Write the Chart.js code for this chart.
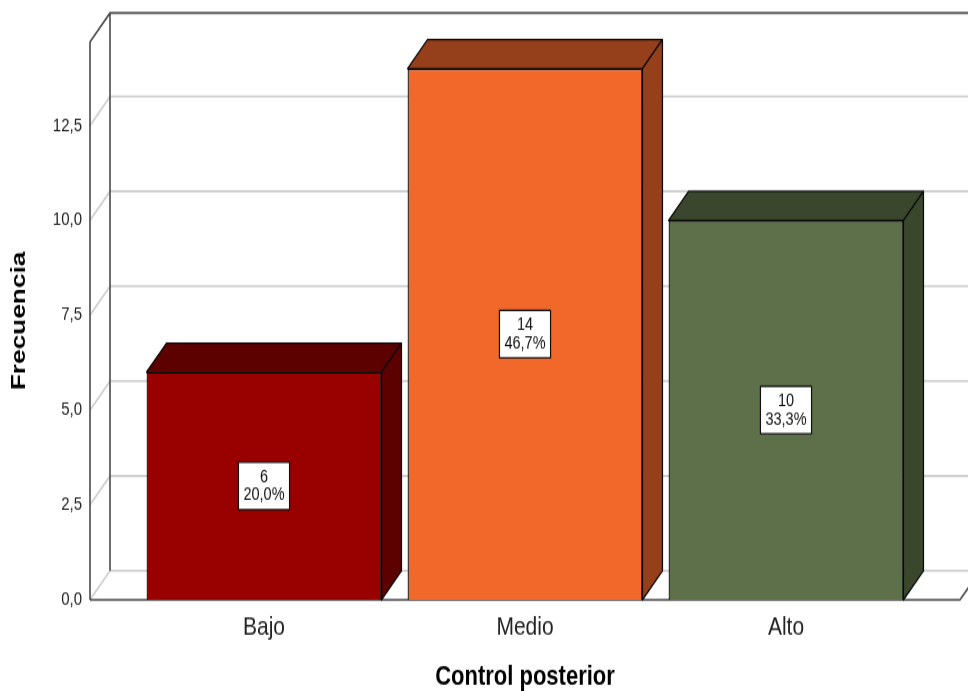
<!DOCTYPE html>
<html lang="es">
<head>
    <meta charset="UTF-8">
    <title>Control posterior</title>
    <script src="https://cdn.jsdelivr.net/npm/chart.js"></script>
    <style>
        body { margin: 0; background: #fff; }
        #grafico { display: block; width: 968px; height: 691px; }
    </style>
</head>
<body>
    <!-- el lienzo se dibuja a 968x553 y se estira en vertical -->
    <canvas id="grafico" width="968" height="553" style="width:968px;height:691px"></canvas>

    <script>
        // datos
        const categorias = ['Bajo', 'Medio', 'Alto'];
        const frecuencias = [6, 14, 10];
        const marcasEje = [0, 2.5, 5, 7.5, 10, 12.5];
        const maxEje = 14.7;

        // colores de las caras
        const colorFrente = ['#990000', '#f2682b', '#5e7049'];
        const colorLado = ['#5c0000', '#963f1b', '#3a472d'];

        // desplazamiento de la profundidad 3D
        const PROF_X = 20;
        const PROF_Y = 23.2;
        const FUENTE = "'Liberation Sans', Arial, sans-serif";

        const total = frecuencias.reduce((a, b) => a + b, 0);
        const coma = (v, d) => v.toFixed(d).replace('.', ',');

        // paredes, suelo y lineas de la cuadricula en el fondo
        const marco3d = {
            id: 'marco3d',
            beforeDatasetsDraw(chart) {
                const { ctx, chartArea: a, scales: { y } } = chart;
                const fin = chart.width + 40;
                ctx.save();
                ctx.lineWidth = 1.6;
                ctx.strokeStyle = '#cccccc';
                marcasEje.forEach(v => {
                    const py = y.getPixelForValue(v);
                    ctx.beginPath();
                    ctx.moveTo(a.left, py);
                    ctx.lineTo(a.left + PROF_X, py - PROF_Y);
                    ctx.lineTo(fin, py - PROF_Y);
                    ctx.stroke();
                });

                ctx.strokeStyle = '#4a4a4a';
                ctx.beginPath();
                ctx.moveTo(a.left, a.bottom);
                ctx.lineTo(a.left, a.top);
                ctx.lineTo(a.left + PROF_X, a.top - PROF_Y);
                ctx.lineTo(fin, a.top - PROF_Y);
                ctx.moveTo(a.left + PROF_X, a.top - PROF_Y);
                ctx.lineTo(a.left + PROF_X, a.bottom - PROF_Y);
                ctx.moveTo(a.left, a.bottom);
                ctx.lineTo(a.right, a.bottom);
                ctx.lineTo(a.right + PROF_X, a.bottom - PROF_Y);
                ctx.stroke();
                ctx.restore();
            },
            afterDatasetsDraw(chart) {
                const { ctx } = chart;
                const meta = chart.getDatasetMeta(0);
                ctx.save();
                meta.data.forEach((barra, i) => {
                    const { x, y, base, width } = barra.getProps(['x', 'y', 'base', 'width'], true);
                    const izq = x - width / 2;
                    const der = x + width / 2;
                    ctx.fillStyle = colorLado[i];
                    ctx.strokeStyle = '#0a0a0a';
                    ctx.lineWidth = 1.3;
                    ctx.lineJoin = 'round';

                    // cara superior
                    ctx.beginPath();
                    ctx.moveTo(izq, y);
                    ctx.lineTo(izq + PROF_X, y - PROF_Y);
                    ctx.lineTo(der + PROF_X, y - PROF_Y);
                    ctx.lineTo(der, y);
                    ctx.closePath();
                    ctx.fill();
                    ctx.stroke();

                    // cara lateral
                    ctx.beginPath();
                    ctx.moveTo(der, y);
                    ctx.lineTo(der + PROF_X, y - PROF_Y);
                    ctx.lineTo(der + PROF_X, base - PROF_Y);
                    ctx.lineTo(der, base);
                    ctx.closePath();
                    ctx.fill();
                    ctx.stroke();

                    // etiqueta con frecuencia y porcentaje
                    const lineas = [String(frecuencias[i]), coma(frecuencias[i] / total * 100, 1) + '%'];
                    ctx.font = '14.5px ' + FUENTE;
                    const ancho = Math.max(...lineas.map(t => ctx.measureText(t).width)) + 10;
                    const alto = 38;
                    const cy = (y + base) / 2;
                    ctx.fillStyle = '#fff';
                    ctx.strokeStyle = '#111';
                    ctx.lineWidth = 1.2;
                    ctx.fillRect(x - ancho / 2, cy - alto / 2, ancho, alto);
                    ctx.strokeRect(x - ancho / 2, cy - alto / 2, ancho, alto);
                    ctx.fillStyle = '#111';
                    ctx.textAlign = 'center';
                    ctx.textBaseline = 'middle';
                    ctx.fillText(lineas[0], x, cy - 7);
                    ctx.fillText(lineas[1], x, cy + 7.5);
                });
                ctx.restore();
            }
        };

        new Chart(document.getElementById('grafico'), {
            type: 'bar',
            data: {
                datasets: [{
                    data: frecuencias.map((v, i) => ({ x: i, y: v })),
                    backgroundColor: colorFrente,
                    borderColor: '#0a0a0a',
                    borderWidth: 1.3,
                    categoryPercentage: 0.9,
                    barPercentage: 1
                }]
            },
            options: {
                responsive: false,
                animation: false,
                layout: { padding: { top: 33.6, right: 8, bottom: 0, left: 0 } },
                plugins: { legend: { display: false }, tooltip: { enabled: false } },
                scales: {
                    x: {
                        type: 'linear',
                        offset: false,
                        min: -2 / 3,
                        max: 8 / 3,
                        grid: { display: false, drawTicks: false, offset: false },
                        border: { display: false },
                        afterBuildTicks: s => { s.ticks = categorias.map((c, i) => ({ value: i })); },
                        afterFit: s => { s.height = 73; },
                        ticks: {
                            padding: 9.5,
                            color: '#222',
                            font: { family: FUENTE, size: 21 },
                            callback: v => categorias[v]
                        },
                        title: {
                            display: true,
                            text: 'Control posterior',
                            color: '#000',
                            padding: { top: 0, bottom: 0 },
                            font: { family: FUENTE, size: 22, weight: 'bold', lineHeight: 1 }
                        }
                    },
                    y: {
                        min: 0,
                        max: maxEje,
                        grid: { display: false, drawTicks: false },
                        border: { display: false },
                        afterBuildTicks: s => { s.ticks = marcasEje.map(v => ({ value: v })); },
                        afterFit: s => { s.width = 90; },
                        ticks: {
                            padding: 8,
                            color: '#222',
                            font: { family: FUENTE, size: 15 },
                            callback: v => coma(v, 1)
                        },
                        title: {
                            display: true,
                            text: 'Frecuencia',
                            color: '#000',
                            padding: { top: 8.5, bottom: 0 },
                            font: { family: FUENTE, size: 21, weight: 'bold', lineHeight: 1 }
                        }
                    }
                }
            },
            plugins: [marco3d]
        });
    </script>
</body>
</html>
